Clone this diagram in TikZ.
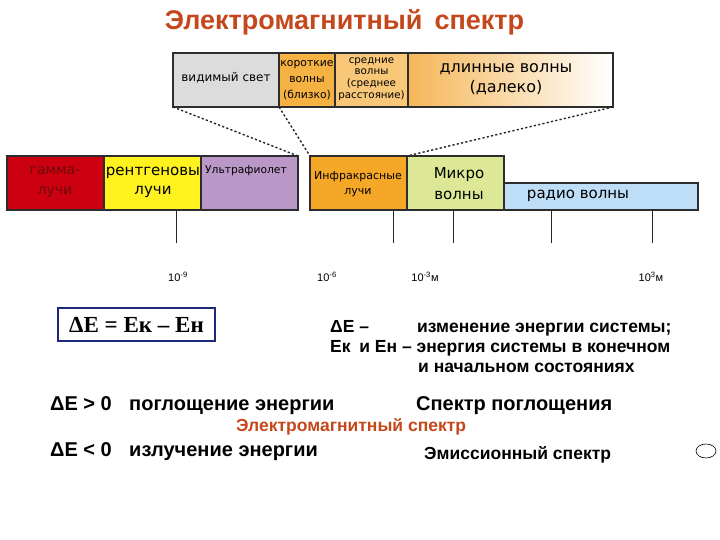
\documentclass[tikz,border=0pt]{standalone}
\usepackage{fontspec}
\setmainfont{Liberation Sans}
\newfontfamily\dv{DejaVu Sans}
\newfontfamily\tnr{Liberation Serif}
\definecolor{titlec}{RGB}{196,72,28}
\definecolor{bordc}{RGB}{45,45,45}
\definecolor{visc}{RGB}{220,220,220}
\definecolor{shortc}{RGB}{245,178,66}
\definecolor{midc}{RGB}{248,200,120}
\definecolor{longc}{RGB}{245,182,88}
\definecolor{gammac}{RGB}{204,0,17}
\definecolor{gammat}{RGB}{110,10,10}
\definecolor{xrayc}{RGB}{255,242,30}
\definecolor{uvc}{RGB}{185,152,200}
\definecolor{irc}{RGB}{245,168,40}
\definecolor{microc}{RGB}{221,232,150}
\definecolor{radioc}{RGB}{190,222,248}
\definecolor{boxc}{RGB}{30,40,120}
\begin{document}
\begin{tikzpicture}[x=1pt,y=-1pt,
  band/.style={draw=bordc, line width=1.2pt, inner sep=0pt, outer sep=0pt},
  lbl/.style={font=\dv\fontsize{#1}{#1}\selectfont, inner sep=0pt, align=center},
  lbl/.default=13,
  dots/.style={dash pattern=on 2.2pt off 2.2pt, line width=1.4pt, black!85},
  tick/.style={line width=1pt, black!85},
  scl/.style={font=\fontsize{11}{11}\selectfont, inner sep=0pt},
  txt/.style={font=\bfseries\fontsize{#1}{#1}\selectfont, inner sep=0pt, anchor=base west},
  txt/.default=17.5]
\useasboundingbox (0,0) rectangle (720,540);
\fill[white] (0,0) rectangle (720,540);
% title
\node[font=\bfseries\fontsize{27}{27}\selectfont, text=titlec, inner sep=0pt] (title) at (344.5,22) {Электромагнитный\, спектр};
% top bar
\node[band, fill=visc, minimum width=106, minimum height=54] (vis) at (226,80) {};
\node[band, fill=shortc, minimum width=56, minimum height=54] (short) at (307,80) {};
\node[band, fill=midc, minimum width=73, minimum height=54] (mid) at (371.5,80) {};
\node[band, left color=longc, right color=white, minimum width=205, minimum height=54] (long) at (510.5,80) {};
\node[lbl=12] (tvis) at (226,78) {видимый свет};
\node[lbl=10.8] (tshort) at (307,80) {короткие\\[5pt]волны\\[5pt](близко)};
\node[lbl=10.3] (tmid) at (371.5,79) {средние\\[1.5pt]волны\\[1.5pt](среднее\\[1.5pt]расстояние)};
\node[lbl=16] (tlong) at (506,79) {длинные волны\\[4pt](далеко)};
% lower bar
\node[band, fill=gammac, minimum width=97, minimum height=54] (gamma) at (55.5,183) {};
\node[band, fill=xrayc, minimum width=97, minimum height=54] (xray) at (152.5,183) {};
\node[band, fill=uvc, minimum width=97, minimum height=54] (uv) at (249.5,183) {};
\node[band, fill=irc, minimum width=97, minimum height=54] (ir) at (358.5,183) {};
\node[band, fill=microc, minimum width=97, minimum height=54] (micro) at (455.5,183) {};
\node[band, fill=radioc, minimum width=194, minimum height=27] (radio) at (601,196.5) {};
\node[lbl=14, text=gammat] (tgamma) at (55,182.5) {гамма-\\[6pt]лучи};
\node[lbl=15] (txray) at (153,182) {рентгеновы\\[4pt]лучи};
\node[lbl=10.7] (tuv) at (246,171) {Ультрафиолет};
\node[lbl=11] (tir) at (358,184) {Инфракрасные\\[4pt]лучи};
\node[lbl=15] (tmicro) at (459,184) {Микро\\[6pt]волны};
\node[lbl=15] (tradio) at (578,196) {радио волны};
% dotted zoom lines
\draw[dots] (vis.south west) -- (uv.north east);
\draw[dots] (vis.south east) -- (ir.north west);
\draw[dots] (long.south east) -- (ir.north east);
% ticks
\coordinate (k1) at (176,210); \coordinate (k2) at (393,210);
\coordinate (k3) at (453,210); \coordinate (k4) at (551,210);
\coordinate (k5) at (652,210);
\foreach \k in {k1,k2,k3,k4,k5} \draw[tick] (\k) -- ++(0,33);
\node[scl] (s1) at (178,277) {10\textsuperscript{-9}};
\node[scl] (s2) at (327,277) {10\textsuperscript{-6}};
\node[scl] (s3) at (425,277) {10\textsuperscript{-3}м};
\node[scl] (s4) at (651,277) {10\textsuperscript{3}м};
% formula
\node[draw=boxc, line width=1.8pt, minimum width=157, minimum height=33, inner sep=0pt,
  font=\tnr\bfseries\fontsize{23}{23}\selectfont] (f) at (136.5,324.5) {ΔЕ = Ек – Ен};
\node[txt] (d1) at (330,332) {ΔЕ –};
\node[txt] (d2) at (417,332) {изменение энергии системы;};
\node[txt] (d3) at (330,352) {Ек\enspace и Ен – энергия системы в конечном};
\node[txt] (d4) at (418,372) {и начальном состояниях};
% bottom
\node[txt=20] (a1) at (50,410) {ΔЕ > 0};
\node[txt=20] (a2) at (129,410) {поглощение энергии};
\node[txt=20] (a3) at (416,410) {Спектр поглощения};
\node[txt=17.5, text=titlec] (a4) at (236,431) {Электромагнитный спектр};
\node[txt=20] (b1) at (50,456) {ΔЕ < 0};
\node[txt=20] (b2) at (129,456) {излучение энергии};
\node[txt=17.5] (b3) at (424,459) {Эмиссионный спектр};
\draw[line width=0.6pt] (706,451) ellipse (10 and 7);
\end{tikzpicture}
\end{document}
